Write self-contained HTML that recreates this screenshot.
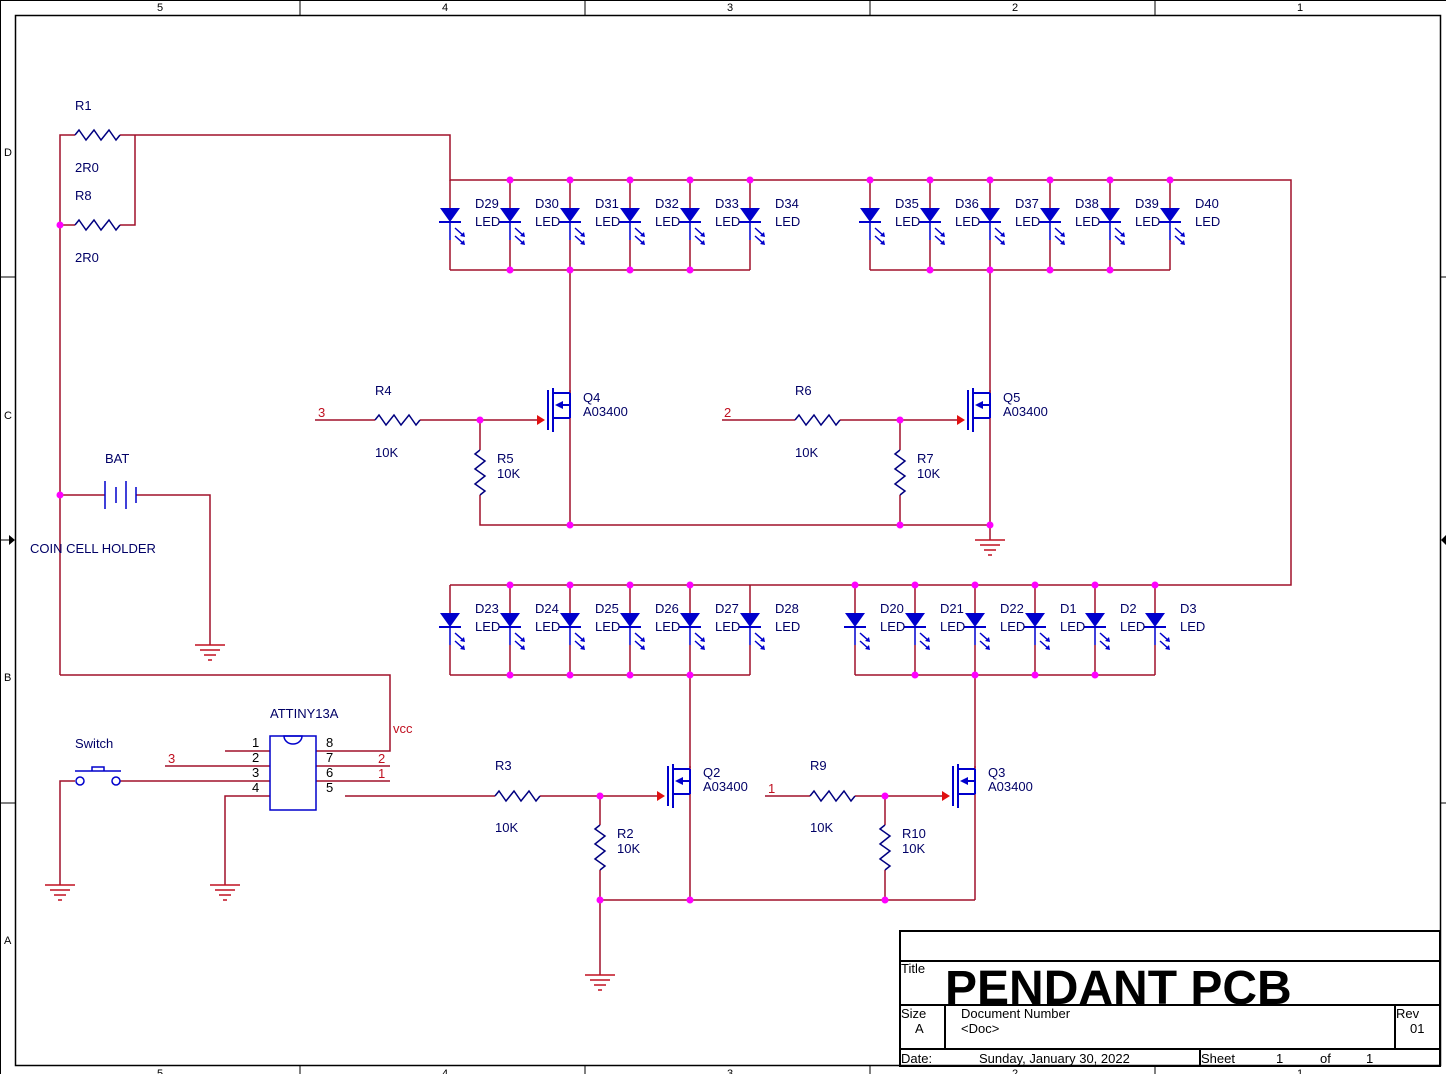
<!DOCTYPE html>
<html><head><meta charset="utf-8"><style>
html,body{margin:0;padding:0;background:#fff;}
svg{display:block;}
text{font-family:"Liberation Sans",sans-serif;}
.l{fill:#000066;font-size:13px;}
.r{fill:#c01020;font-size:13px;}
.b{fill:#000;font-size:11px;}
.t{fill:#000;font-size:13px;}
</style></head><body>
<svg width="1446" height="1074" viewBox="0 0 1446 1074" xmlns="http://www.w3.org/2000/svg">
<defs>
<g id="led">
<line x1="0" y1="0" x2="0" y2="28" stroke="#a0102a" stroke-width="1.5"/>
<polygon points="-10,28 10,28 0,42" fill="#0000cc"/>
<line x1="-11" y1="42" x2="11" y2="42" stroke="#0000cc" stroke-width="2"/>
<line x1="0" y1="42" x2="0" y2="60" stroke="#0000cc" stroke-width="1.5"/>
<line x1="0" y1="60" x2="0" y2="90" stroke="#a0102a" stroke-width="1.5"/>
<line x1="5" y1="48" x2="14" y2="56" stroke="#0000cc" stroke-width="1.5"/>
<polygon points="15,57 10,56 14,52" fill="#0000cc"/>
<line x1="5" y1="56" x2="14" y2="64" stroke="#0000cc" stroke-width="1.5"/>
<polygon points="15,65 10,64 14,60" fill="#0000cc"/>
</g>
<g id="fet">
<!-- origin at drain x, gate y -->
<line x1="0" y1="-30" x2="0" y2="-27" stroke="#a0102a" stroke-width="1.5"/>
<line x1="-22" y1="-30" x2="-22" y2="10" stroke="#0000cc" stroke-width="2"/>
<line x1="-17" y1="-32" x2="-17" y2="12" stroke="#0000cc" stroke-width="2"/>
<line x1="-17" y1="-27" x2="0" y2="-27" stroke="#0000cc" stroke-width="2"/>
<line x1="-17" y1="-2" x2="0" y2="-2" stroke="#0000cc" stroke-width="2"/>
<line x1="-12" y1="-15" x2="0" y2="-15" stroke="#0000cc" stroke-width="2"/>
<polygon points="-15,-15 -7,-19 -7,-11" fill="#0000cc"/>
<line x1="0" y1="-27" x2="0" y2="-2" stroke="#0000cc" stroke-width="2"/>
<polygon points="-33,-5 -25,0 -33,5" fill="#e01010"/>
</g>
<g id="gnd" stroke="#c01020" stroke-width="1.5">
<line x1="-15" y1="0" x2="15" y2="0"/><line x1="-10" y1="5" x2="10" y2="5"/><line x1="-6" y1="10" x2="6" y2="10"/><line x1="-2" y1="15" x2="2" y2="15"/>
</g>
<polyline id="rh" points="0,0 4,-5 11,5 19,-5 26,5 34,-5 41,5 45,0" fill="none" stroke="#000080" stroke-width="1.5"/>
<polyline id="rv" points="0,0 -5,4 5,11 -5,19 5,26 -5,34 5,41 0,45" fill="none" stroke="#000080" stroke-width="1.5"/>
</defs>

<!-- frame -->
<rect x="0.5" y="0.5" width="1450" height="1080" fill="none" stroke="#000"/>
<rect x="15.5" y="15.5" width="1425" height="1050" fill="none" stroke="#000" stroke-width="1.5"/>
<g stroke="#000">
<line x1="300" y1="0" x2="300" y2="15"/><line x1="585" y1="0" x2="585" y2="15"/><line x1="870" y1="0" x2="870" y2="15"/><line x1="1155" y1="0" x2="1155" y2="15"/>
<line x1="300" y1="1066" x2="300" y2="1074"/><line x1="585" y1="1066" x2="585" y2="1074"/><line x1="870" y1="1066" x2="870" y2="1074"/><line x1="1155" y1="1066" x2="1155" y2="1074"/>
<line x1="0" y1="277" x2="15" y2="277"/><line x1="0" y1="803" x2="15" y2="803"/><line x1="0" y1="540" x2="10" y2="540"/>
<line x1="1441" y1="277" x2="1446" y2="277"/><line x1="1441" y1="803" x2="1446" y2="803"/>
</g>
<polygon points="9,535 15,540 9,545" fill="#000"/>
<polygon points="1446,535 1441,540 1446,545" fill="#000"/>
<text class="b" x="157" y="11">5</text><text class="b" x="442" y="11">4</text><text class="b" x="727" y="11">3</text><text class="b" x="1012" y="11">2</text><text class="b" x="1297" y="11">1</text>
<text class="b" x="157" y="1077">5</text><text class="b" x="442" y="1077">4</text><text class="b" x="727" y="1077">3</text><text class="b" x="1012" y="1077">2</text><text class="b" x="1297" y="1077">1</text>
<text class="b" x="4" y="156">D</text><text class="b" x="4" y="419">C</text><text class="b" x="4" y="681">B</text><text class="b" x="4" y="944">A</text>

<!-- wires -->
<g stroke="#a0102a" stroke-width="1.5" fill="none">
<polyline points="60,675 60,135 75,135"/>
<polyline points="120,135 450,135 450,180 1291,180 1291,585 450,585"/>
<polyline points="60,225 75,225"/><polyline points="120,225 135,225 135,135"/>
<line x1="450" y1="270" x2="750" y2="270"/><line x1="870" y1="270" x2="1170" y2="270"/>
<line x1="450" y1="675" x2="750" y2="675"/><line x1="855" y1="675" x2="1155" y2="675"/>
<line x1="570" y1="270" x2="570" y2="393"/><line x1="570" y1="418" x2="570" y2="525"/>
<line x1="990" y1="270" x2="990" y2="393"/><line x1="990" y1="418" x2="990" y2="540"/>
<line x1="690" y1="675" x2="690" y2="768"/><line x1="690" y1="793" x2="690" y2="900"/>
<line x1="975" y1="675" x2="975" y2="768"/><line x1="975" y1="793" x2="975" y2="900"/>
<polyline points="315,420 375,420"/><polyline points="420,420 540,420"/>
<polyline points="722,420 795,420"/><polyline points="840,420 960,420"/>
<polyline points="480,420 480,450"/><polyline points="480,495 480,525 990,525"/>
<polyline points="900,420 900,450"/><polyline points="900,495 900,525"/>
<polyline points="345,796 495,796"/><polyline points="540,796 660,796"/>
<polyline points="765,796 810,796"/><polyline points="855,796 945,796"/>
<polyline points="600,796 600,825"/><polyline points="600,870 600,975"/>
<polyline points="885,796 885,825"/><polyline points="885,870 885,900"/>
<line x1="600" y1="900" x2="975" y2="900"/>
<polyline points="60,495 105,495"/><polyline points="136,495 210,495 210,645"/>
<polyline points="60,675 390,675 390,751 316,751"/>
<line x1="316" y1="766" x2="390" y2="766"/><line x1="316" y1="781" x2="390" y2="781"/>
<line x1="225" y1="751" x2="270" y2="751"/><line x1="165" y1="766" x2="270" y2="766"/>
<line x1="120" y1="781" x2="270" y2="781"/>
<polyline points="270,796 225,796 225,885"/>
<polyline points="75,781 60,781 60,885"/>
</g>

<!-- resistors -->
<use href="#rh" x="75" y="135"/><use href="#rh" x="75" y="225"/>
<use href="#rh" x="375" y="420"/><use href="#rh" x="795" y="420"/>
<use href="#rh" x="495" y="796"/><use href="#rh" x="810" y="796"/>
<use href="#rv" x="480" y="450"/><use href="#rv" x="900" y="450"/>
<use href="#rv" x="600" y="825"/><use href="#rv" x="885" y="825"/>

<!-- LEDs -->
<use href="#led" x="450" y="180"/><use href="#led" x="510" y="180"/><use href="#led" x="570" y="180"/><use href="#led" x="630" y="180"/><use href="#led" x="690" y="180"/><use href="#led" x="750" y="180"/>
<use href="#led" x="870" y="180"/><use href="#led" x="930" y="180"/><use href="#led" x="990" y="180"/><use href="#led" x="1050" y="180"/><use href="#led" x="1110" y="180"/><use href="#led" x="1170" y="180"/>
<use href="#led" x="450" y="585"/><use href="#led" x="510" y="585"/><use href="#led" x="570" y="585"/><use href="#led" x="630" y="585"/><use href="#led" x="690" y="585"/><use href="#led" x="750" y="585"/>
<use href="#led" x="855" y="585"/><use href="#led" x="915" y="585"/><use href="#led" x="975" y="585"/><use href="#led" x="1035" y="585"/><use href="#led" x="1095" y="585"/><use href="#led" x="1155" y="585"/>

<!-- FETs -->
<use href="#fet" x="570" y="420"/><use href="#fet" x="990" y="420"/>
<use href="#fet" x="690" y="796"/><use href="#fet" x="975" y="796"/>

<!-- grounds -->
<use href="#gnd" x="990" y="540"/><use href="#gnd" x="210" y="645"/>
<use href="#gnd" x="60" y="885"/><use href="#gnd" x="225" y="885"/><use href="#gnd" x="600" y="975"/>

<!-- battery -->
<g stroke="#0000cc" stroke-width="1.5">
<line x1="105" y1="481" x2="105" y2="509"/><line x1="116" y1="487" x2="116" y2="503"/>
<line x1="126" y1="481" x2="126" y2="509"/><line x1="136" y1="487" x2="136" y2="503"/>
</g>

<!-- chip -->
<rect x="270" y="736" width="46" height="74" fill="none" stroke="#0000cc" stroke-width="1.5"/>
<path d="M284,736 A9,8 0 0 0 302,736 Z" fill="none" stroke="#0000cc" stroke-width="1.5"/>

<!-- switch -->
<g stroke="#0000cc" stroke-width="1.5" fill="none">
<circle cx="80" cy="781" r="4"/><circle cx="116" cy="781" r="4"/>
<line x1="75" y1="771" x2="121" y2="771"/><polyline points="92,771 92,767 104,767 104,771"/>
</g>

<!-- junctions -->
<g fill="#ff00ff">
<circle cx="510" cy="180" r="3.5"/><circle cx="570" cy="180" r="3.5"/><circle cx="630" cy="180" r="3.5"/><circle cx="690" cy="180" r="3.5"/><circle cx="750" cy="180" r="3.5"/>
<circle cx="870" cy="180" r="3.5"/><circle cx="930" cy="180" r="3.5"/><circle cx="990" cy="180" r="3.5"/><circle cx="1050" cy="180" r="3.5"/><circle cx="1110" cy="180" r="3.5"/><circle cx="1170" cy="180" r="3.5"/>
<circle cx="510" cy="270" r="3.5"/><circle cx="570" cy="270" r="3.5"/><circle cx="630" cy="270" r="3.5"/><circle cx="690" cy="270" r="3.5"/>
<circle cx="930" cy="270" r="3.5"/><circle cx="990" cy="270" r="3.5"/><circle cx="1050" cy="270" r="3.5"/><circle cx="1110" cy="270" r="3.5"/>
<circle cx="510" cy="585" r="3.5"/><circle cx="570" cy="585" r="3.5"/><circle cx="630" cy="585" r="3.5"/><circle cx="690" cy="585" r="3.5"/>
<circle cx="855" cy="585" r="3.5"/><circle cx="915" cy="585" r="3.5"/><circle cx="975" cy="585" r="3.5"/><circle cx="1035" cy="585" r="3.5"/><circle cx="1095" cy="585" r="3.5"/><circle cx="1155" cy="585" r="3.5"/>
<circle cx="510" cy="675" r="3.5"/><circle cx="570" cy="675" r="3.5"/><circle cx="630" cy="675" r="3.5"/><circle cx="690" cy="675" r="3.5"/>
<circle cx="915" cy="675" r="3.5"/><circle cx="975" cy="675" r="3.5"/><circle cx="1035" cy="675" r="3.5"/><circle cx="1095" cy="675" r="3.5"/>
<circle cx="60" cy="225" r="3.5"/><circle cx="60" cy="495" r="3.5"/>
<circle cx="480" cy="420" r="3.5"/><circle cx="900" cy="420" r="3.5"/>
<circle cx="570" cy="525" r="3.5"/><circle cx="900" cy="525" r="3.5"/><circle cx="990" cy="525" r="3.5"/>
<circle cx="600" cy="796" r="3.5"/><circle cx="885" cy="796" r="3.5"/>
<circle cx="600" cy="900" r="3.5"/><circle cx="690" cy="900" r="3.5"/><circle cx="885" cy="900" r="3.5"/>
</g>

<!-- labels -->
<g class="l">
<text x="75" y="110">R1</text><text x="75" y="172">2R0</text><text x="75" y="200">R8</text><text x="75" y="262">2R0</text>
<text x="475" y="208">D29</text><text x="475" y="226">LED</text><text x="535" y="208">D30</text><text x="535" y="226">LED</text>
<text x="595" y="208">D31</text><text x="595" y="226">LED</text><text x="655" y="208">D32</text><text x="655" y="226">LED</text>
<text x="715" y="208">D33</text><text x="715" y="226">LED</text><text x="775" y="208">D34</text><text x="775" y="226">LED</text>
<text x="895" y="208">D35</text><text x="895" y="226">LED</text><text x="955" y="208">D36</text><text x="955" y="226">LED</text>
<text x="1015" y="208">D37</text><text x="1015" y="226">LED</text><text x="1075" y="208">D38</text><text x="1075" y="226">LED</text>
<text x="1135" y="208">D39</text><text x="1135" y="226">LED</text><text x="1195" y="208">D40</text><text x="1195" y="226">LED</text>
<text x="475" y="613">D23</text><text x="475" y="631">LED</text><text x="535" y="613">D24</text><text x="535" y="631">LED</text>
<text x="595" y="613">D25</text><text x="595" y="631">LED</text><text x="655" y="613">D26</text><text x="655" y="631">LED</text>
<text x="715" y="613">D27</text><text x="715" y="631">LED</text><text x="775" y="613">D28</text><text x="775" y="631">LED</text>
<text x="880" y="613">D20</text><text x="880" y="631">LED</text><text x="940" y="613">D21</text><text x="940" y="631">LED</text>
<text x="1000" y="613">D22</text><text x="1000" y="631">LED</text><text x="1060" y="613">D1</text><text x="1060" y="631">LED</text>
<text x="1120" y="613">D2</text><text x="1120" y="631">LED</text><text x="1180" y="613">D3</text><text x="1180" y="631">LED</text>
<text x="583" y="402">Q4</text><text x="583" y="416">A03400</text>
<text x="1003" y="402">Q5</text><text x="1003" y="416">A03400</text>
<text x="703" y="777">Q2</text><text x="703" y="791">A03400</text>
<text x="988" y="777">Q3</text><text x="988" y="791">A03400</text>
<text x="375" y="395">R4</text><text x="375" y="457">10K</text>
<text x="795" y="395">R6</text><text x="795" y="457">10K</text>
<text x="497" y="463">R5</text><text x="497" y="478">10K</text>
<text x="917" y="463">R7</text><text x="917" y="478">10K</text>
<text x="495" y="770">R3</text><text x="495" y="832">10K</text>
<text x="810" y="770">R9</text><text x="810" y="832">10K</text>
<text x="617" y="838">R2</text><text x="617" y="853">10K</text>
<text x="902" y="838">R10</text><text x="902" y="853">10K</text>
<text x="105" y="463">BAT</text><text x="30" y="553">COIN CELL HOLDER</text>
<text x="75" y="748">Switch</text><text x="270" y="718">ATTINY13A</text>
</g>
<g class="t">
<text x="252" y="747">1</text><text x="252" y="762">2</text><text x="252" y="777">3</text><text x="252" y="792">4</text>
<text x="326" y="747">8</text><text x="326" y="762">7</text><text x="326" y="777">6</text><text x="326" y="792">5</text>
</g>
<g class="r">
<text x="318" y="417">3</text><text x="724" y="417">2</text><text x="768" y="793">1</text>
<text x="168" y="763">3</text><text x="378" y="763">2</text><text x="378" y="778">1</text>
<text x="393" y="733">vcc</text>
</g>

<!-- title block -->
<g stroke="#000" stroke-width="2" fill="none">
<rect x="900" y="931" width="540" height="135"/>
<line x1="900" y1="961" x2="1440" y2="961"/><line x1="900" y1="1005" x2="1440" y2="1005"/><line x1="900" y1="1049" x2="1440" y2="1049"/>
<line x1="945" y1="1005" x2="945" y2="1049"/><line x1="1395" y1="1005" x2="1395" y2="1049"/><line x1="1200" y1="1049" x2="1200" y2="1066"/>
</g>
<g class="t" style="font-size:13px">
<text x="901" y="973">Title</text><text x="901" y="1018">Size</text><text x="915" y="1033">A</text>
<text x="961" y="1018">Document Number</text><text x="961" y="1033">&lt;Doc&gt;</text>
<text x="1396" y="1018">Rev</text><text x="1410" y="1033">01</text>
<text x="901" y="1063">Date:</text><text x="979" y="1063">Sunday, January 30, 2022</text>
<text x="1201" y="1063">Sheet</text><text x="1276" y="1063">1</text><text x="1320" y="1063">of</text><text x="1366" y="1063">1</text>
</g>
<text x="945" y="1004" style="font-size:48px;font-weight:bold;fill:#000">PENDANT PCB</text>
</svg>
</body></html>
